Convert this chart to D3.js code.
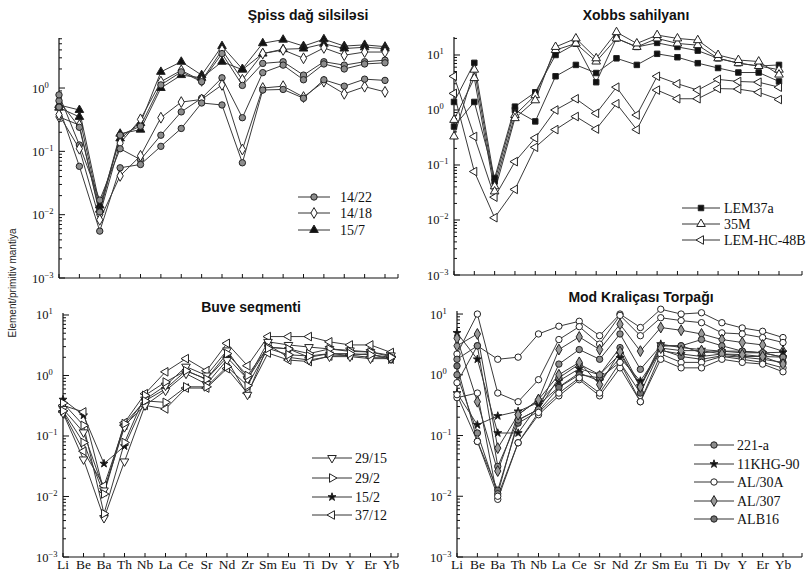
<!DOCTYPE html>
<html><head><meta charset="utf-8">
<script src="https://cdn.jsdelivr.net/npm/d3@7"></script>
<style>html,body{margin:0;padding:0;background:#fff;}</style>
</head><body>
<svg id="chart" width="808" height="570"></svg>
<script>
// ---------- data ----------
const elements = ["Li","Be","Ba","Th","Nb","La","Ce","Sr","Nd","Zr","Sm","Eu","Ti","Dy","Y","Er","Yb"];
const tickExponents = [-3,-2,-1,0,1];

// Panel 1: Şpiss dağ silsiləsi
const spissTitle = "Şpiss dağ silsiləsi";
const spissValues = [
  [0.54,0.45,0.014,0.16,0.28,1.8,2.6,1.6,4.6,2.0,5.1,5.8,4.6,5.9,4.6,4.8,4.5],
  [0.49,0.35,0.012,0.19,0.22,1.0,1.6,1.45,2.6,1.95,3.5,4.1,4.2,5.0,4.2,4.4,4.2],
  [0.35,0.26,0.010,0.135,0.32,1.26,1.9,1.3,4.0,1.35,3.5,4.0,2.95,4.3,3.3,3.7,3.7],
  [0.63,0.24,0.011,0.18,0.25,1.12,1.8,1.26,3.5,1.1,2.45,2.6,1.6,2.6,2.3,2.6,2.75],
  [0.78,0.126,0.017,0.11,0.074,0.18,0.42,0.69,1.45,0.34,1.75,2.3,1.35,2.4,2.0,2.4,2.5],
  [0.38,0.11,0.0083,0.041,0.085,0.34,0.6,0.66,1.12,0.107,1.0,1.07,0.72,1.26,0.81,1.05,0.87],
  [0.5,0.058,0.0055,0.055,0.062,0.12,0.23,0.58,0.54,0.066,0.93,0.95,0.69,1.35,1.07,1.38,1.32]
];
const spissMarkers = ["triBlack","triBlack","diamondWhite","circleGrey","circleGrey","diamondWhite","circleGrey"];
const spissLegend = ["14/22","14/18","15/7"];
const spissLegendMarkers = ["circleGrey","diamondWhite","triBlack"];

// Panel 2: Xobbs sahilyanı
const xobbsTitle = "Xobbs sahilyanı";
const xobbsValues = [
  [1.4,7.2,0.05,1.0,0.62,4.1,6.6,4.7,8.7,6.6,10.5,9.1,7.1,5.8,4.8,4.8,3.3],
  [0.5,1.4,0.058,1.15,2.1,10,16,3.2,20,14,16.6,14,12,8.7,7.1,6.3,6.6],
  [0.33,5.4,0.041,0.81,1.86,12.3,16.2,7.6,20,14,20,16.2,15.1,8.7,7.1,6.3,5.4],
  [0.66,3.8,0.033,0.71,1.5,14,20,8.7,26,16.2,23,20,18.6,10,8.1,7.6,4.4],
  [4.1,0.33,0.026,0.115,0.31,1.0,1.6,0.87,2.6,0.81,4.1,3.0,2.3,3.6,3.3,3.2,2.6],
  [2.0,0.076,0.011,0.036,0.21,0.44,0.76,0.45,1.3,0.44,2.3,1.6,1.6,2.45,2.4,2.1,1.55]
];
const xobbsMarkers = ["squareBlack","squareBlack","triWhite","triWhite","triLeftWhite","triLeftWhite"];
const xobbsLegend = ["LEM37a","35M","LEM-HC-48B"];
const xobbsLegendMarkers = ["squareBlack","triWhite","triLeftWhite"];

// Panel 3: Buve seqmenti
const buveTitle = "Buve seqmenti";
const buveValues = [
  [0.4,0.22,0.035,0.068,0.38,0.6,1.2,0.87,2.0,0.87,2.95,2.75,2.0,2.3,2.15,2.3,1.8],
  [0.32,0.25,0.012,0.166,0.5,1.15,1.9,1.2,3.4,1.45,4.4,4.4,4.4,3.6,3.2,3.2,2.4],
  [0.25,0.056,0.015,0.15,0.32,0.28,0.62,0.62,1.3,0.51,2.35,1.8,1.7,2.1,2.15,2.0,2.0],
  [0.24,0.041,0.0044,0.038,0.32,0.56,1.07,0.72,1.8,0.48,3.2,2.0,1.8,2.05,2.05,1.9,1.9],
  [0.28,0.115,0.0126,0.14,0.4,0.68,1.4,1.0,2.6,0.87,3.6,3.2,2.95,2.75,2.6,2.45,2.15],
  [0.35,0.15,0.0052,0.078,0.47,0.78,1.2,0.87,2.3,1.0,2.95,2.75,2.3,2.75,2.5,2.45,2.05],
  [0.26,0.078,0.011,0.16,0.38,0.36,0.65,0.65,1.4,0.68,2.8,2.2,2.1,2.3,2.3,2.2,2.0]
];
const buveMarkers = ["starBlack","triLeftWhite","triLeftWhite","triDownWhite","triDownWhite","triRightWhite","triRightWhite"];
const buveLegend = ["29/15","29/2","15/2","37/12"];
const buveLegendMarkers = ["triDownWhite","triRightWhite","starBlack","triLeftWhite"];

// Panel 4: Mod Kraliçası Torpağı
const modTitle = "Mod Kraliçası Torpağı";
const modValues = [
  [0.74,3.0,1.8,1.95,4.7,6.3,7.6,4.4,10,6.0,12,10,10.5,7.2,5.9,5.2,4.1],
  [2.2,10,0.5,0.36,0.83,3.8,6.2,3.2,9.5,4.4,8.7,7.8,7.2,4.9,4.7,4.1,3.4],
  [3.0,4.7,0.062,0.22,0.39,2.6,4.2,2.6,6.8,2.45,6.0,5.4,4.7,3.8,3.4,3.1,2.45],
  [1.8,3.0,0.031,0.18,0.27,1.5,2.6,1.8,4.7,1.23,3.0,3.0,3.8,3.0,2.45,2.3,1.95],
  [4.9,1.8,0.11,0.11,0.32,0.63,1.07,0.79,1.9,0.79,2.5,2.2,2.0,2.2,2.0,2.0,1.95],
  [0.5,0.15,0.21,0.25,0.35,0.79,1.26,1.0,2.2,0.65,3.2,2.8,2.6,2.45,2.3,2.3,2.35],
  [1.4,0.08,0.0126,0.16,0.25,0.62,1.0,0.89,1.6,0.5,2.6,2.0,1.8,2.05,1.95,1.8,1.6],
  [0.42,0.5,0.0089,0.076,0.22,0.45,0.83,0.45,1.3,0.36,2.2,1.6,1.6,2.0,1.8,1.6,1.3],
  [1.0,0.11,0.011,0.18,0.27,0.89,1.5,1.0,2.8,0.65,3.0,3.0,2.3,2.45,2.45,2.3,1.95],
  [4.0,0.36,0.026,0.22,0.39,1.0,1.6,0.69,2.4,0.63,2.75,2.5,2.5,2.2,2.15,2.0,1.5],
  [0.47,0.08,0.01,0.076,0.24,0.5,0.89,0.5,1.6,0.36,1.8,1.3,1.3,1.8,1.6,1.5,1.12]
];
const modMarkers = ["circleWhite","circleWhite","diamondGrey","circleGrey","starBlack","starBlack","circleDark","circleWhite","circleGrey","diamondGrey","circleWhite"];
const modLegend = ["221-a","11KHG-90","AL/30A","AL/307","ALB16"];
const modLegendMarkers = ["circleGrey","starBlack","circleWhite","diamondGrey","circleDark"];

const yAxisTitle = "Element/primitiv mantiya";

// ---------- layout ----------
const panels = [
  {title: spissTitle, values: spissValues, markers: spissMarkers, legend: spissLegend, legendMarkers: spissLegendMarkers,
   xLi: 59, xYb: 385, xEnd: 398, yBot: 278, yTop: 38, yMax: Math.pow(10,0.79),
   titleX: 308, titleY: 20, xLabels: false,
   leg: {x0: 298, x1: 330, tx: 340, ys: [197,213,230]}},
  {title: xobbsTitle, values: xobbsValues, markers: xobbsMarkers, legend: xobbsLegend, legendMarkers: xobbsLegendMarkers,
   xLi: 454, xYb: 779, xEnd: 802, yBot: 275, yTop: 37, yMax: Math.pow(10,1.327),
   titleX: 636, titleY: 20, xLabels: false,
   leg: {x0: 682, x1: 720, tx: 724, ys: [208,224,240]}},
  {title: buveTitle, values: buveValues, markers: buveMarkers, legend: buveLegend, legendMarkers: buveLegendMarkers,
   xLi: 63, xYb: 391, xEnd: 398, yBot: 557, yTop: 313, yMax: Math.pow(10,1.033),
   titleX: 251, titleY: 312, xLabels: true,
   leg: {x0: 312, x1: 352, tx: 355, ys: [458,478,497,515]}},
  {title: modTitle, values: modValues, markers: modMarkers, legend: modLegend, legendMarkers: modLegendMarkers,
   xLi: 457, xYb: 783, xEnd: 802, yBot: 557, yTop: 311, yMax: Math.pow(10,1.05),
   titleX: 641, titleY: 302, xLabels: true,
   leg: {x0: 694, x1: 734, tx: 737, ys: [445,464,482,501,519]}}
];

const markerStyles = {
  circleGrey:   {type: d3.symbolCircle,  size: 32, rot: 0,   fill: "#8c8c8c"},
  circleDark:   {type: d3.symbolCircle,  size: 32, rot: 0,   fill: "#707070"},
  circleWhite:  {type: d3.symbolCircle,  size: 32, rot: 0,   fill: "#fff"},
  diamondWhite: {type: d3.symbolDiamond, size: 34, rot: 0,   fill: "#fff"},
  diamondGrey:  {type: d3.symbolDiamond, size: 34, rot: 0,   fill: "#999"},
  triBlack:     {type: d3.symbolTriangle,size: 32, rot: 0,   fill: "#111"},
  triWhite:     {type: d3.symbolTriangle,size: 32, rot: 0,   fill: "#fff"},
  triLeftWhite: {type: d3.symbolTriangle,size: 32, rot: -90, fill: "#fff"},
  triRightWhite:{type: d3.symbolTriangle,size: 32, rot: 90,  fill: "#fff"},
  triDownWhite: {type: d3.symbolTriangle,size: 32, rot: 180, fill: "#fff"},
  squareBlack:  {type: d3.symbolSquare,  size: 30, rot: 0,   fill: "#111"},
  starBlack:    {type: d3.symbolStar,    size: 20, rot: 0,   fill: "#111"}
};

const svg = d3.select("#chart");
const serif = "'Liberation Serif','Times New Roman',serif";
const sans = "'Liberation Sans',Arial,sans-serif";

function drawMarker(g, key, x, y) {
  const s = markerStyles[key];
  g.append("path")
    .attr("d", d3.symbol().type(s.type).size(s.size)())
    .attr("transform", `translate(${x},${y}) rotate(${s.rot})`)
    .attr("fill", s.fill)
    .attr("stroke", "#222")
    .attr("stroke-width", 1);
}

panels.forEach(p => {
  const g = svg.append("g");
  const x = d3.scalePoint().domain(elements).range([p.xLi, p.xYb]);
  const y = d3.scaleLog().domain([1e-3, p.yMax]).range([p.yBot, p.yTop]);

  // axes lines
  g.append("line").attr("x1", p.xLi).attr("x2", p.xLi).attr("y1", p.yBot).attr("y2", p.yTop)
    .attr("stroke", "#111").attr("stroke-width", 1.2);
  g.append("line").attr("x1", p.xLi).attr("x2", p.xEnd).attr("y1", p.yBot).attr("y2", p.yBot)
    .attr("stroke", "#111").attr("stroke-width", 1.2);
  g.append("line").attr("x1", p.xEnd).attr("x2", p.xEnd).attr("y1", p.yBot).attr("y2", p.yBot - 4)
    .attr("stroke", "#111").attr("stroke-width", 1);

  // y ticks (log minor + major)
  const ticks = y.ticks(20).filter(t => t <= p.yMax * 1.0001);
  ticks.forEach(t => {
    const mant = Math.round(t / Math.pow(10, Math.floor(Math.log10(t) + 1e-9)));
    const len = mant === 1 ? 6 : 3;
    g.append("line").attr("x1", p.xLi).attr("x2", p.xLi + len)
      .attr("y1", y(t)).attr("y2", y(t)).attr("stroke", "#111").attr("stroke-width", 1);
  });
  // y tick labels
  tickExponents.forEach(e => {
    const v = Math.pow(10, e);
    if (v > p.yMax * 1.0001) return;
    const t = g.append("text").attr("x", p.xLi - 27).attr("y", y(v) + 4.5)
      .attr("font-family", serif).attr("font-size", 12.5).attr("fill", "#111");
    t.append("tspan").text("10");
    t.append("tspan").attr("dy", -5).attr("font-size", 8.5).text(e < 0 ? "\u2212" + Math.abs(e) : String(e));
  });

  // x ticks
  elements.forEach(el => {
    g.append("line").attr("x1", x(el)).attr("x2", x(el)).attr("y1", p.yBot).attr("y2", p.yBot - 4)
      .attr("stroke", "#111").attr("stroke-width", 1);
  });
  if (p.xLabels) {
    elements.forEach(el => {
      g.append("text").attr("x", x(el)).attr("y", p.yBot + 11.5).attr("text-anchor", "middle")
        .attr("font-family", serif).attr("font-size", 13.5).attr("fill", "#111").text(el);
    });
  }

  // title
  g.append("text").attr("x", p.titleX).attr("y", p.titleY).attr("text-anchor", "middle")
    .attr("font-family", sans).attr("font-weight", "bold").attr("font-size", 14).attr("fill", "#111")
    .text(p.title);

  // lines
  const line = d3.line().x((d, i) => x(elements[i])).y(d => y(d));
  p.values.forEach(vals => {
    g.append("path").attr("d", line(vals)).attr("fill", "none")
      .attr("stroke", "#3a3a3a").attr("stroke-width", 1);
  });
  p.values.forEach((vals, si) => {
    vals.forEach((v, i) => drawMarker(g, p.markers[si], x(elements[i]), y(v)));
  });

  // legend
  p.legend.forEach((name, i) => {
    const ly = p.leg.ys[i];
    g.append("line").attr("x1", p.leg.x0).attr("x2", p.leg.x1).attr("y1", ly).attr("y2", ly)
      .attr("stroke", "#333").attr("stroke-width", 1);
    drawMarker(g, p.legendMarkers[i], (p.leg.x0 + p.leg.x1) / 2, ly);
    g.append("text").attr("x", p.leg.tx).attr("y", ly + 4.8)
      .attr("font-family", serif).attr("font-size", 14).attr("fill", "#111").text(name);
  });
});

// shared y-axis title
svg.append("text").attr("transform", "translate(16,283) rotate(-90)").attr("text-anchor", "middle")
  .attr("font-family", sans).attr("font-size", 10).attr("fill", "#222").text(yAxisTitle);
</script>
</body></html>
